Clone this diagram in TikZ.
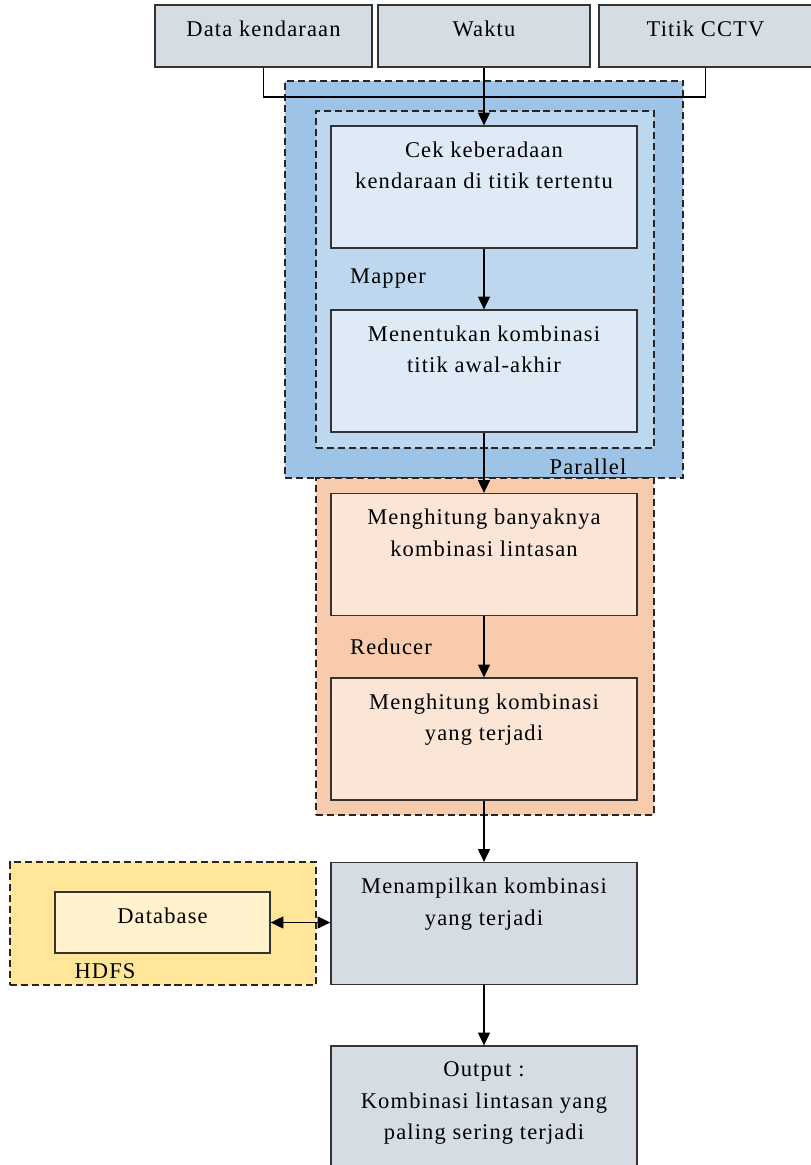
\documentclass[tikz,border=0pt]{standalone}
\usepackage{fontspec}
\setmainfont{Liberation Serif}[LetterSpace=5]
\usetikzlibrary{arrows.meta}

\definecolor{parblue}{HTML}{9DC3E6}
\definecolor{mapblue}{HTML}{BDD7EE}
\definecolor{mapbox}{HTML}{DEEBF7}
\definecolor{redorange}{HTML}{F8CBAD}
\definecolor{redbox}{HTML}{FBE5D6}
\definecolor{hdfsyellow}{HTML}{FFE699}
\definecolor{dbbox}{HTML}{FFF2CC}
\definecolor{iobox}{HTML}{D6DCE4}

\tikzset{
  procbox/.style={draw=black!80, line width=0.9pt, minimum width=7.65cm, minimum height=3.05cm, inner sep=0pt},
  inbox/.style={draw=black!80, line width=0.9pt, fill=iobox, minimum height=1.55cm, inner sep=0pt},
  group/.style={draw=black!85, dash pattern=on 5pt off 2.8pt, line width=1.1pt, inner sep=0pt},
  boxtext/.style={anchor=north, align=center, font=\fontsize{16}{22.5}\selectfont, yshift=-0.4cm, inner sep=0pt},
  grouplabel/.style={font=\fontsize{16}{18}\selectfont, inner sep=0pt},
  flow/.style={-{Triangle[length=9pt,width=8.5pt]}, line width=0.8pt}
}

\begin{document}
\begin{tikzpicture}[x=0.025cm, y=-0.025cm]
  \useasboundingbox (0,0) rectangle (810,1165);

  % groups
  \node[group, fill=parblue, minimum width=9.95cm, minimum height=9.925cm] (parallel) at (484,279.5) {};
  \node[group, fill=mapblue, minimum width=8.45cm, minimum height=8.425cm] (mapper) at (485,279.5) {};
  \node[group, fill=redorange, minimum width=8.45cm, minimum height=8.425cm] (reducer) at (485,646.5) {};
  \node[group, fill=hdfsyellow, minimum width=7.65cm, minimum height=3.075cm] (hdfs) at (163,923.5) {};

  \node[grouplabel] (mapperlbl) at (388,279) {Mapper};
  \node[grouplabel] (parallellbl) at (588,467) {Parallel};
  \node[grouplabel] (reducerlbl) at (391,647) {Reducer};
  \node[grouplabel] (hdfslbl) at (105,971) {HDFS};

  % input boxes
  \node[inbox, minimum width=5.425cm] (data) at (263.5,36) {};
  \node[boxtext] (datatxt) at (data.north) {Data kendaraan};
  \node[inbox, minimum width=5.3cm] (waktu) at (484,36) {};
  \node[boxtext] (waktutxt) at (waktu.north) {Waktu};
  \node[inbox, minimum width=5.325cm] (titik) at (705.5,36) {};
  \node[boxtext] (titiktxt) at (titik.north) {Titik CCTV};

  % mapper
  \node[procbox, fill=mapbox] (cek) at (484,187) {};
  \node[boxtext] (cektxt) at (cek.north) {Cek keberadaan\\kendaraan di titik tertentu};
  \node[procbox, fill=mapbox] (tentukan) at (484,371) {};
  \node[boxtext] (tentukantxt) at (tentukan.north) {Menentukan kombinasi\\titik awal-akhir};

  % reducer
  \node[procbox, fill=redbox] (banyak) at (484,554.5) {};
  \node[boxtext] (banyaktxt) at (banyak.north) {Menghitung banyaknya\\kombinasi lintasan};
  \node[procbox, fill=redbox] (hitung) at (484,739) {};
  \node[boxtext] (hitungtxt) at (hitung.north) {Menghitung kombinasi\\yang terjadi};

  % output
  \node[procbox, fill=iobox] (tampil) at (484,923.5) {};
  \node[boxtext] (tampiltxt) at (tampil.north) {Menampilkan kombinasi\\yang terjadi};
  \node[procbox, fill=iobox] (output) at (484,1107) {};
  \node[boxtext] (outputtxt) at (output.north) {Output :\\Kombinasi lintasan yang\\paling sering terjadi};

  \node[draw=black!80, line width=0.9pt, fill=dbbox, minimum width=5.375cm, minimum height=1.525cm, inner sep=0pt] (db) at (162.5,922.5) {};
  \node[boxtext] (dbtxt) at (db.north) {Database};

  % connectors
  \coordinate (bus) at (484,97);
  \draw[line width=0.8pt] (data.south) |- (bus) -| (titik.south);
  \draw[flow] (waktu.south) -- (cek.north);
  \draw[flow] (cek) -- (tentukan);
  \draw[flow] (tentukan) -- (banyak);
  \draw[flow] (banyak) -- (hitung);
  \draw[flow] (hitung) -- (tampil);
  \draw[flow] (tampil) -- (output);
  \draw[flow, {Triangle[length=9pt,width=8.5pt]}-{Triangle[length=9pt,width=8.5pt]}] (db.east) -- (db.east -| tampil.west);
\end{tikzpicture}
\end{document}
